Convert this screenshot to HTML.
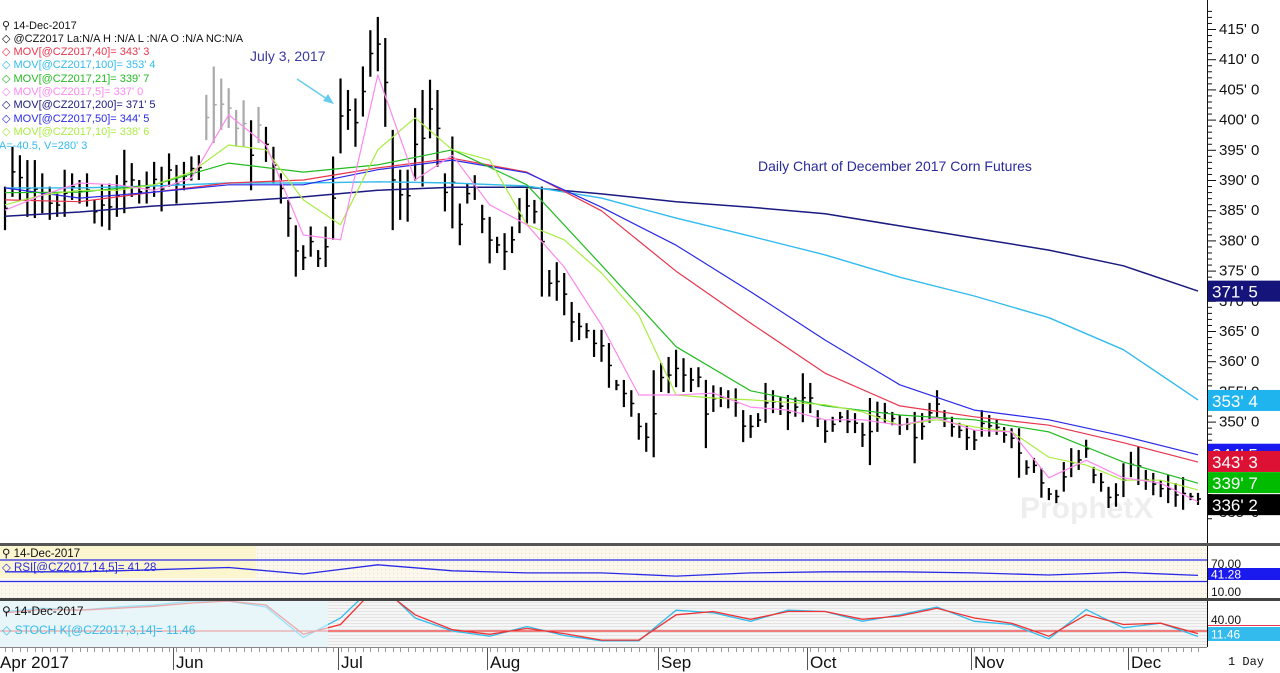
<!DOCTYPE html>
<html><head><meta charset="utf-8"><style>
html,body{margin:0;padding:0;background:#fff;}
svg{display:block;font-family:"Liberation Sans",sans-serif;}
</style></head><body>
<svg id="chart" width="1280" height="673" viewBox="0 0 1280 673" xmlns="http://www.w3.org/2000/svg">
<defs>
<pattern id="dots" width="4" height="4" patternUnits="userSpaceOnUse"><rect width="4" height="4" fill="#fbf7ec"/><rect x="1" y="1" width="1" height="1" fill="#e6dfcc"/></pattern>
<pattern id="stripes" width="4" height="3" patternUnits="userSpaceOnUse"><rect width="4" height="3" fill="#f6f6f6"/><rect y="2" width="4" height="1" fill="#e4e4e4"/></pattern>
<clipPath id="mainClip"><rect x="0" y="0" width="1207" height="543"/></clipPath>
<clipPath id="rsiClip"><rect x="0" y="546" width="1207" height="52"/></clipPath>
<clipPath id="stClip"><rect x="0" y="601" width="1207" height="46"/></clipPath>
</defs>
<rect x="0" y="0" width="1280" height="673" fill="#fff"/>
<text x="1020" y="518" font-size="30" font-weight="bold" fill="#eeeeee">ProphetX</text>
<g id="bars" clip-path="url(#mainClip)"></g>
<g id="mas" clip-path="url(#mainClip)"></g>
<g font-size="11">
<text x="2" y="29" fill="#111">⚲ 14-Dec-2017</text>
<text x="2" y="42" fill="#111">◇ @CZ2017 La:N/A H :N/A L :N/A O :N/A NC:N/A</text>
<text x="2" y="55" fill="#e8364e">◇ MOV[@CZ2017,40]= 343' 3</text>
<text x="2" y="68" fill="#33bbee">◇ MOV[@CZ2017,100]= 353' 4</text>
<text x="2" y="82" fill="#22bb22">◇ MOV[@CZ2017,21]= 339' 7</text>
<text x="2" y="95" fill="#ff88ee">◇ MOV[@CZ2017,5]= 337' 0</text>
<text x="2" y="108" fill="#1a1a80">◇ MOV[@CZ2017,200]= 371' 5</text>
<text x="2" y="122" fill="#2a2ae8">◇ MOV[@CZ2017,50]= 344' 5</text>
<text x="2" y="135" fill="#aaee44">◇ MOV[@CZ2017,10]= 338' 6</text>
<text x="-1" y="149" fill="#33bbee">A=-40.5, V=280' 3</text>
</g>
<text x="250" y="61" font-size="14" fill="#3a3aa0">July 3, 2017</text>
<g><line x1="297" y1="79" x2="330" y2="101" stroke="#66ccee" stroke-width="1.5"/><polygon points="334,104 323,101 328,94" fill="#66ccee"/></g>
<text x="758" y="171" font-size="14" fill="#2a2a9a">Daily Chart of December 2017 Corn Futures</text>
<g id="yaxis"></g>
<line x1="1207.5" y1="0" x2="1207.5" y2="647" stroke="#111" stroke-width="1"/>
<g id="lastlabels"></g>
<rect x="0" y="543" width="1280" height="3" fill="#555"/>
<rect x="0" y="546" width="1207" height="52" fill="url(#dots)"/>
<rect x="0" y="546" width="256" height="32" fill="#fbf6cf"/>
<g id="rsi" clip-path="url(#rsiClip)"></g>
<text x="2" y="557" font-size="11.5" fill="#111">⚲ 14-Dec-2017</text>
<text x="2" y="571" font-size="11.5" fill="#2a2ae8">◇ RSI[@CZ2017,14,5]= 41.28</text>
<rect x="0" y="598" width="1280" height="3" fill="#444"/>
<rect x="0" y="601" width="1207" height="46" fill="url(#stripes)"/>
<rect x="0" y="601" width="328" height="46" fill="#e8f6fa"/>
<g id="stoch" clip-path="url(#stClip)"></g>
<text x="2" y="615" font-size="12" fill="#111">⚲ 14-Dec-2017</text>
<text x="2" y="634" font-size="12" fill="#33bbee">◇ STOCH K[@CZ2017,3,14]= 11.46</text>
<g font-size="12" fill="#111">
<text x="1211" y="568">70.00</text><text x="1211" y="596">10.00</text>
<rect x="1208" y="568" width="72" height="12" fill="#1a1aee"/><text x="1211" y="578.5" fill="#fff">41.28</text>
</g>
<g font-size="12" fill="#111">
<text x="1211" y="624">40.00</text>
<line x1="1208" y1="625.5" x2="1280" y2="625.5" stroke="#e8364e"/>
<rect x="1208" y="627" width="72" height="14" fill="#33bbee"/><text x="1211" y="638.5" fill="#fff">11.46</text>
</g>
<g id="xaxis"></g>
<line x1="0" y1="647.5" x2="1207" y2="647.5" stroke="#888"/>
<text x="1228" y="665" font-size="12" font-family="Liberation Mono, monospace" fill="#111">1 Day</text>
</svg>
<script>
const highs=[388.9,395.5,394.1,393.3,393.3,391.1,388.9,387.8,391.7,391.1,390,391.1,386.7,389.4,389.4,390.8,395,392.8,390,391.4,393,392.2,394.4,392.5,393,393.9,394.1,404.1,408.8,406.8,405.2,401.6,403.2,399.9,402.1,398.8,395.5,391.1,386.7,382.5,379.2,382.3,378.4,382.3,393.9,406.8,404.9,403.5,408.8,414.8,417,413.5,398.3,391.7,391.7,401.9,404.9,406.6,404.9,391.1,397.2,386.1,389.4,390.8,385.9,383.9,380.6,381.2,382.3,387,388.6,386.7,388.9,375.1,376.4,374.6,369.8,368,366.3,365.2,365.2,363,356.9,356.9,355.2,351.4,349.8,358.5,359.7,360.7,361.9,360.5,358.9,359,356.9,356,355.7,355.2,355.5,351.9,351.1,351.4,356.4,355.2,354,354.4,354,358,356.4,351.9,350.3,350.8,351.6,351.9,351.4,349.8,353.9,353.3,353.1,351.6,351.1,350.6,351.6,351.4,353.1,355.2,351.9,350.8,349.8,349.4,348.6,351.9,351.1,350.3,349.1,348.9,348.9,343.6,344,342.3,339,338.7,343.3,345.6,345.3,347,342.5,341.5,339.2,339.8,343.1,345,345.8,342,341.5,340.3,341.2,339.8,340.8,338.2,338.2];
const lows=[381.7,387.2,386.7,383.9,383.7,384.5,383.4,383.9,383.9,386.7,386.1,385.6,382.8,382.3,381.7,383.9,384.5,387.2,386.1,386.1,387.2,384.8,388.9,386.1,388.3,389.9,390,396.6,396.1,398.3,398.6,395.5,395.5,388.3,396.1,393,389.4,386.1,380.6,374,375.1,377.3,375.6,375.6,380.1,394.4,398.3,395.5,400.5,407.1,408,398.8,381.7,383.4,383.1,389.9,388.9,396.9,392.2,384.8,382,379.2,386.1,386.7,381.2,376.2,377.9,375.1,377.9,381.2,382.8,382.8,370.7,370.7,370,367.6,363.2,363.5,363.8,360.7,359.9,355.6,355.2,352.4,350.8,347,345,344.1,354.9,354.7,355.7,354.9,354.9,355.7,345.6,351.6,352.4,352.2,350.8,346.6,347.3,349.1,349.8,351.4,351.1,348.6,350.8,349.9,351.4,349.1,346.5,348.3,349.9,348.1,348.1,345.8,342.8,348.3,349.8,349.4,347.8,348.6,343.1,347,349.8,350.6,349.1,347.5,347.3,345.3,345.3,347.5,347.5,347.8,346.5,345.6,340.7,341.2,341.5,337.4,337,336.5,338.4,340.8,342,344,339.8,338.4,335.7,335.9,337.5,340.8,339.5,338.7,337.8,337.5,336.5,335.9,335.4,337,336.2];
const grayBars=[27,28,29,30,31,32,34];
const ma200=[384.0,384.7,385.7,386.4,387.2,388.3,388.8,388.8,387.7,386.4,385.5,384.4,382.4,380.4,378.4,375.8,371.6];
const ma100=[388.7,388.7,389.0,389.5,389.5,389.7,389.5,389.0,387.0,383.7,380.7,377.6,373.9,370.8,367.2,361.9,353.6];
const ma40=[386.7,386.4,388.0,389.5,390.0,392.0,393.6,391.3,384.9,374.9,366.3,358.0,352.6,350.8,349.4,346.5,343.3];
const ma50=[388.7,387.0,388.0,389.2,389.2,391.7,393.3,391.2,385.5,379.2,371.5,363.5,356.1,351.9,350.3,347.6,344.5];
const ma21=[387.9,388.0,389.2,392.8,391.3,392.5,395.0,389.2,375.9,362.4,355.1,352.6,351.1,350.3,348.3,343.3,339.8];
const ma10=[385.9,387.5,388.3,388.3,389.2,391.3,395.8,395.0,386.7,382.6,395.0,400.3,395.0,393.3,382.6,380.1,374.6,367.6,354.4,353.9,353.6,353.2,352.8,351.6,349.4,350.3,349.1,348.3,344.1,342.8,340.3,340.3,338.7];
const ma5=[385.0,387.5,389.5,389.2,388.3,390.3,400.8,395.8,380.9,380.1,407.4,390.0,394.1,385.9,382.6,375.6,366.0,354.4,354.4,354.7,352.4,351.9,350.3,350.3,349.4,350.6,348.6,348.3,340.7,343.6,340.7,339.8,336.7];
const rsiVals=[48,48,52,56,44,61,50,46,46,40,46,48,48,46,42,47,41.3];
const stochK=[50,55,52,57,60,66,66,57,10,40,95,40,20,12,27,13,5,5,52,48,35,52,50,35,45,57,35,30,8,53,25,32,11.5];
const stochD=[48,53,52,55,58,63,66,60,15,30,90,45,22,15,24,16,6,6,45,50,38,50,50,38,43,55,40,32,12,45,30,32,16];
const priceTicks=[415,410,405,400,395,390,385,380,375,370,365,360,355,350,345,340,335];
const monthLabels=["Apr 2017","Jun","Jul","Aug","Sep","Oct","Nov","Dec"];
const monthBarIdx=[0,23,45,65,88,108,130,151];
const lastLabels=[["371' 5",371.6,"#14147a"],["353' 4",353.5,"#1fb4ee"],["344' 5",344.6,"#1a1aee"],["343' 3",343.4,"#dd1133"],["339' 7",339.9,"#00bb00"],["336' 2",336.25,"#000"]];

const NS="http://www.w3.org/2000/svg";
const N=highs.length;
const X0=5, STEP=(1198-5)/(N-1);
function xAt(i){return X0+i*STEP;}
function yP(p){return 29+(415-p)*6.04;}
function yR(v){return 560+(70-v)*0.5375;}
function yS(v){return 631-(v-20)*0.65;}
function mk(tag,attrs,parent){const e=document.createElementNS(NS,tag);for(const k in attrs)e.setAttribute(k,attrs[k]);parent.appendChild(e);return e;}

const gb=document.getElementById('bars');
for(let i=0;i<N;i++){
  const c=grayBars.includes(i)?'#aaa':'#000';
  const x=xAt(i);
  const l=mk('line',{x1:x,x2:x,y1:yP(highs[i]),y2:yP(lows[i]),stroke:c,'stroke-width':2.2},gb);
  
  
  const cy=yP((highs[i]+lows[i])/2);
  const t=mk('line',{x1:x,x2:x+3,y1:cy,y2:cy,stroke:c,'stroke-width':1.5},gb);
  
  
}
const gm=document.getElementById('mas');
function maLine(arr,every,color,name,w){
  const pts=arr.map((v,k)=>xAt(k*every).toFixed(1)+','+yP(v).toFixed(1)).join(' ');
  const p=mk('polyline',{points:pts,fill:'none',stroke:color,'stroke-width':w||1.2,'stroke-linejoin':'round'},gm);
  
  
}
maLine(ma200,10,'#1a1a80','ma200-line',1.5);
maLine(ma100,10,'#33bbee','ma100-line',1.4);
maLine(ma40,10,'#e8364e','ma40-line');
maLine(ma50,10,'#2a2ae8','ma50-line');
maLine(ma21,10,'#22bb22','ma21-line');
maLine(ma10,5,'#aaee44','ma10-line');
maLine(ma5,5,'#ff88ee','ma5-line');

const ya=document.getElementById('yaxis');
for(let p=334;p<=418;p++){
  const y=yP(p)+0.5;
  const major=p%5===0;
  mk('line',{x1:1207,x2:major?1216:1212,y1:y,y2:y,stroke:'#111','stroke-width':1},ya);
}
priceTicks.forEach(p=>{
  const t=mk('text',{x:1219,y:yP(p)+5,'font-size':15,fill:'#111'},ya);
  t.textContent=p+"' 0";
  
  
});
const ll=document.getElementById('lastlabels');
lastLabels.forEach(([txt,v,c])=>{
  const y=yP(v);
  const r=mk('rect',{x:1208,y:y-10.5,width:72,height:21,fill:c},ll);
  
  
  const t=mk('text',{x:1212,y:y+6.5,'font-size':17,fill:'#fff'},ll);
  t.textContent=txt;
  
  
});

const gr=document.getElementById('rsi');
mk('line',{x1:0,x2:1207,y1:yR(70),y2:yR(70),stroke:'#2a2ae8','stroke-width':1.3},gr);
mk('line',{x1:0,x2:1207,y1:yR(30),y2:yR(30),stroke:'#2a2ae8','stroke-width':1.3},gr);
const rl=mk('polyline',{points:rsiVals.map((v,k)=>xAt(k*10).toFixed(1)+','+yR(v).toFixed(1)).join(' '),fill:'none',stroke:'#2a2ae8','stroke-width':1.3},gr);



const gs=document.getElementById('stoch');
mk('line',{x1:0,x2:1207,y1:yS(20),y2:yS(20),stroke:'#ee3333','stroke-width':1.3},gs);
const sk=mk('polyline',{points:stochK.map((v,k)=>xAt(k*5).toFixed(1)+','+yS(v).toFixed(1)).join(' '),fill:'none',stroke:'#33bbee','stroke-width':1.3},gs);


const sd=mk('polyline',{points:stochD.map((v,k)=>xAt(k*5).toFixed(1)+','+yS(v).toFixed(1)).join(' '),fill:'none',stroke:'#ee3333','stroke-width':1.3},gs);


mk('rect',{x:0,y:601,width:328,height:46,fill:'#e8f6fa','fill-opacity':0.6},gs);

const gx=document.getElementById('xaxis');
for(let i=0;i<N;i++){const x=Math.round(xAt(i))+0.5;mk('line',{x1:x,x2:x,y1:648,y2:652,stroke:'#999'},gx);}
monthLabels.forEach((m,k)=>{
  const x=k===0?0:Math.round(xAt(monthBarIdx[k]))-3;
  if(k>0)mk('line',{x1:x+0.5,x2:x+0.5,y1:648,y2:670,stroke:'#555'},gx);
  const t=mk('text',{x:k===0?0:x+3,y:668,'font-size':17,fill:'#111'},gx);
  t.textContent=m;
  
  
});
</script>
</body></html>
